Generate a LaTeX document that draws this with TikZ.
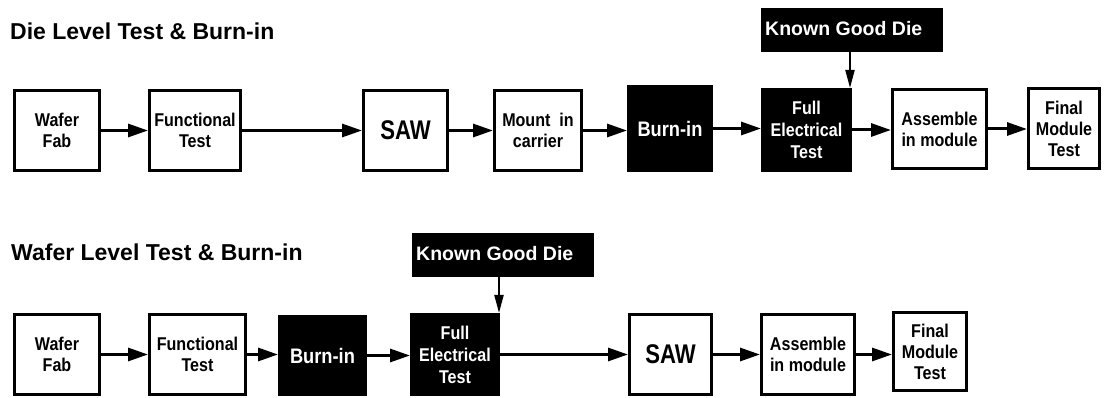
\documentclass[tikz,border=0pt]{standalone}
\usepackage{fontspec}
\setmainfont{Liberation Sans}
\newfontfamily\condfont[FakeStretch=0.87]{Liberation Sans}
\newfontfamily\sawfont[FakeStretch=0.82]{Liberation Sans}
\usetikzlibrary{arrows.meta}
\begin{document}
\begin{tikzpicture}[x=1pt,y=-1pt,
  wbox/.style={draw=black,line width=3pt,fill=white,inner sep=0pt,align=center,
    font=\condfont\fontsize{18.5}{21}\selectfont\bfseries,minimum height=80pt},
  bbox/.style={draw=black,line width=3pt,fill=black,text=white,inner sep=0pt,align=center,
    font=\condfont\fontsize{18.5}{22}\selectfont\bfseries,minimum height=80pt},
  kgdbox/.style={draw=black,line width=1pt,fill=black,minimum width=181pt,minimum height=43pt,inner sep=0pt},
  kgdtext/.style={text=white,font=\fontsize{19.5}{22}\selectfont\bfseries,anchor=west,inner sep=0pt},
  ttl/.style={font=\fontsize{23}{26}\selectfont\bfseries,anchor=base west,inner sep=0pt},
  sawtext/.style={font=\sawfont\fontsize{27}{30}\selectfont\bfseries},
  burntext/.style={font=\condfont\fontsize{21}{24}\selectfont\bfseries},
  flow/.style={line width=3pt,-{Triangle[length=20pt,width=13pt]}},
  kgdflow/.style={line width=2pt,-{Triangle[length=18pt,width=9pt]}}
]
\useasboundingbox (0,0) rectangle (1104,398);

% titles
\node[ttl] (t1) at (10,40) {Die Level Test \& Burn-in};
\node[ttl] (t2) at (11,261) {Wafer Level Test \& Burn-in};

% top row
\node[wbox,minimum width=85pt] (wf1) at (57,130.5) {Wafer\\Fab};
\node[wbox,minimum width=91pt] (ft1) at (195,130.5) {Functional\\Test};
\node[wbox,minimum width=84pt,sawtext] (saw1) at (405.5,130.5) {SAW};
\node[wbox,minimum width=87pt] (mount) at (538,130.5) {Mount\ \ in\\carrier};
\node[bbox,minimum width=83pt,minimum height=84pt,burntext] (burn1) at (670,128.5) {Burn-in};
\node[bbox,minimum width=88pt,minimum height=81pt] (fet1) at (806.5,130) {Full\\Electrical\\Test};
\node[wbox,minimum width=94pt,minimum height=79pt] (asm1) at (939.5,129) {Assemble\\in module};
\node[wbox,minimum width=71pt] (fin1) at (1064,128.5) {Final\\Module\\Test};
\node[kgdbox] (kgd1) at (852,30) {};
\node[kgdtext] (kgd1t) at (765,29) {Known Good Die};

\draw[flow] (wf1.east) -- (wf1.east -| ft1.west);
\draw[flow] (ft1.east) -- (ft1.east -| saw1.west);
\draw[flow] (saw1.east) -- (saw1.east -| mount.west);
\draw[flow] (mount.east) -- (mount.east -| burn1.west);
\draw[flow] (burn1.east) -- (burn1.east -| fet1.west);
\draw[flow] (fet1.east) -- (fet1.east -| asm1.west);
\draw[flow] (asm1.east) -- (asm1.east -| fin1.west);
\draw[kgdflow] ([xshift=-2pt]kgd1.south -| fet1.north east) -- ([xshift=-2pt]fet1.north east);

% bottom row
\node[wbox,minimum width=85pt] (wf2) at (57,354.5) {Wafer\\Fab};
\node[wbox,minimum width=96pt] (ft2) at (197.5,354.5) {Functional\\Test};
\node[bbox,minimum width=86pt,minimum height=78pt,burntext] (burn2) at (322.5,355.5) {Burn-in};
\node[bbox,minimum width=87pt] (fet2) at (455,354.5) {Full\\Electrical\\Test};
\node[wbox,minimum width=82pt,sawtext] (saw2) at (670.5,354.5) {SAW};
\node[wbox,minimum width=93pt] (asm2) at (808,354.5) {Assemble\\in module};
\node[wbox,minimum width=73pt,minimum height=78pt] (fin2) at (930,351.5) {Final\\Module\\Test};
\node[kgdbox] (kgd2) at (503,255) {};
\node[kgdtext] (kgd2t) at (416,254) {Known Good Die};

\draw[flow] (wf2.east) -- (wf2.east -| ft2.west);
\draw[flow] (ft2.east) -- (ft2.east -| burn2.west);
\draw[flow] (burn2.east) -- (burn2.east -| fet2.west);
\draw[flow] (fet2.east) -- (fet2.east -| saw2.west);
\draw[flow] (saw2.east) -- (saw2.east -| asm2.west);
\draw[flow] (asm2.east) -- (asm2.east -| fin2.west);
\draw[kgdflow] ([xshift=-1pt]kgd2.south -| fet2.north east) -- ([xshift=-1pt]fet2.north east);
\end{tikzpicture}
\end{document}
